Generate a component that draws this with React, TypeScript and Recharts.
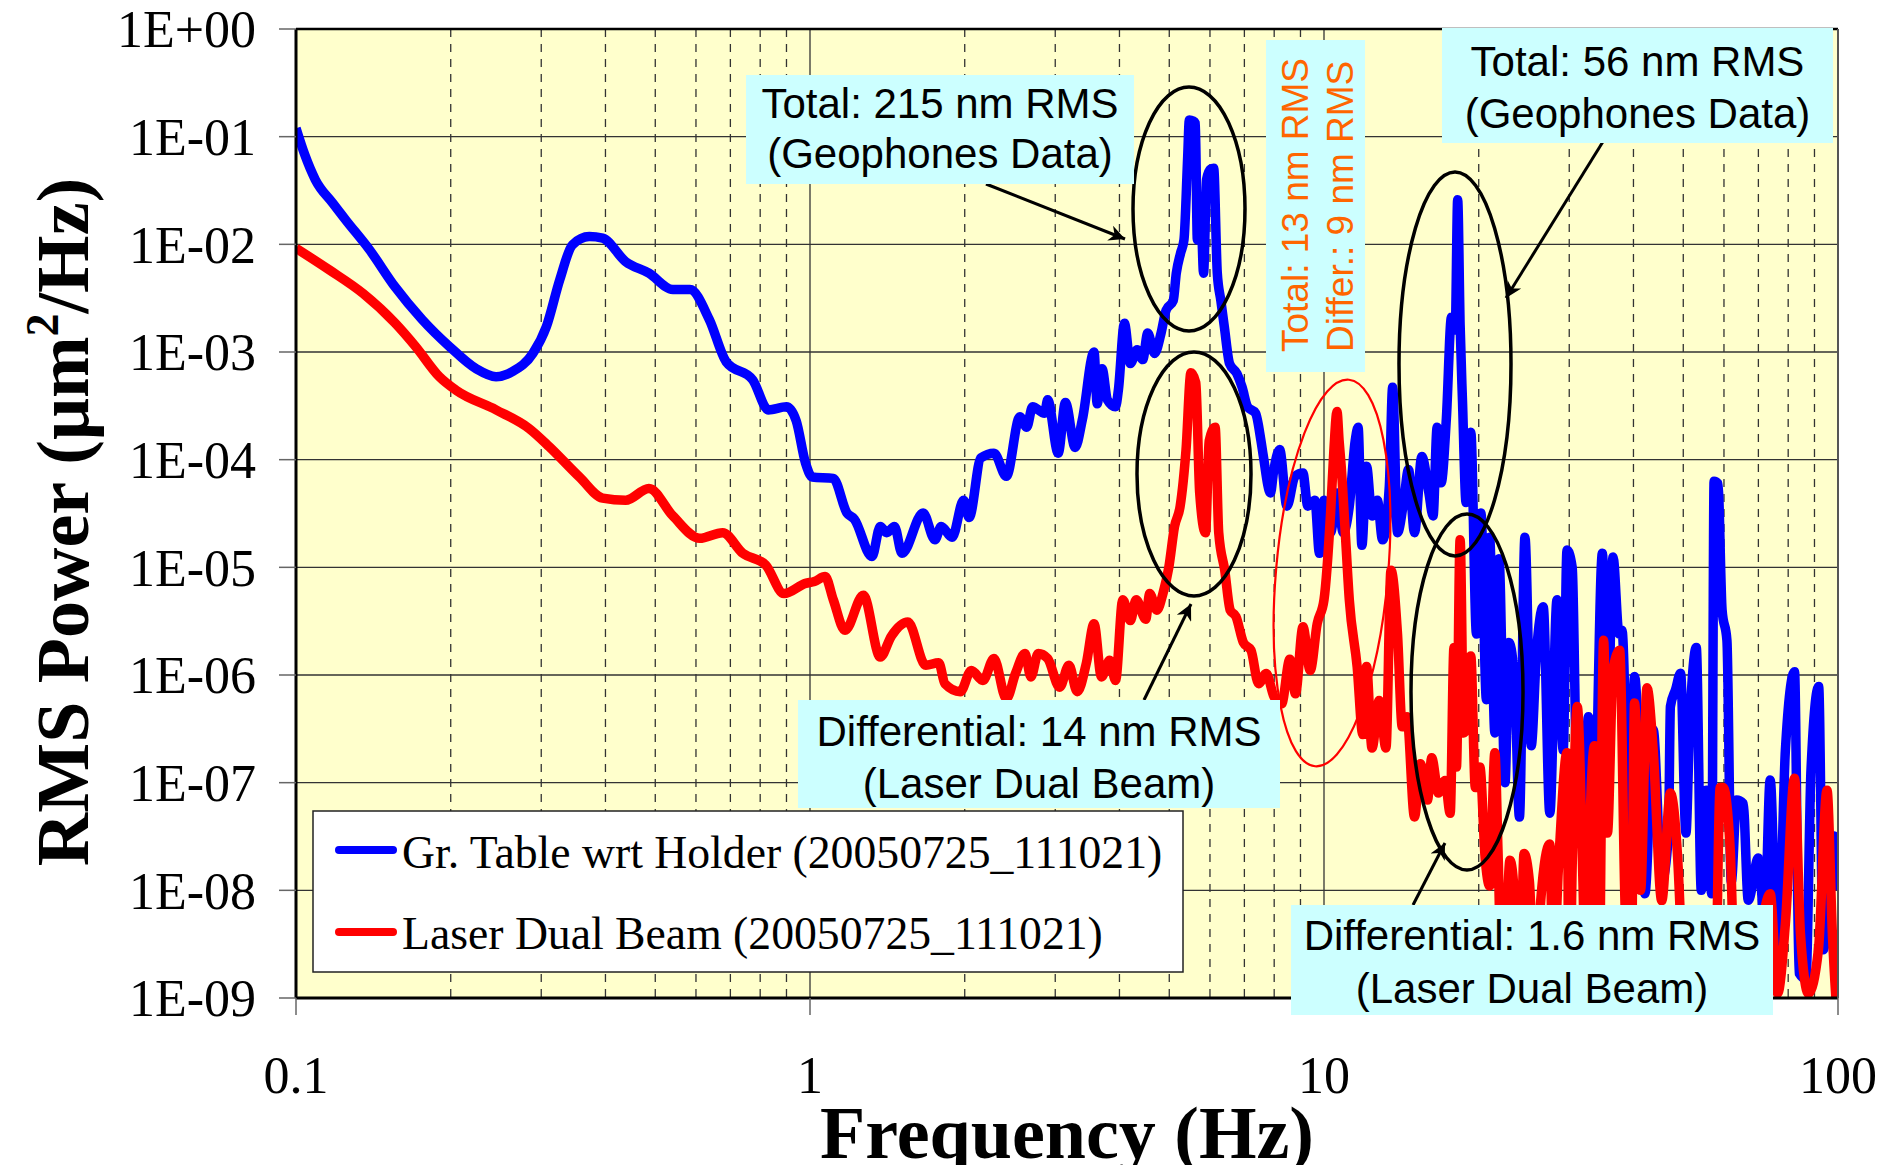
import React, { useEffect } from 'react';
import { LineChart, Line, XAxis, YAxis, CartesianGrid } from 'recharts';

// Gr. Table wrt Holder (geophones), frequency in Hz and RMS power in um^2/Hz
const blueFreq = [
  0.1, 0.104, 0.109, 0.118, 0.125, 0.139, 0.156, 0.176, 0.199, 0.224, 0.245, 0.264, 0.289, 0.307, 0.326,
  0.345, 0.372, 0.395, 0.438, 0.486, 0.541, 0.584, 0.637, 0.687, 0.774, 0.83, 0.9, 0.94, 0.98, 1.01,
  1.11, 1.18, 1.22, 1.32, 1.37, 1.41, 1.46, 1.51, 1.66, 1.75, 1.8, 1.89, 1.99, 2.04, 2.15, 2.28, 2.41,
  2.56, 2.64, 2.71, 2.86, 2.9, 3.04, 3.14, 3.28, 3.39, 3.57, 3.62, 3.7, 3.79, 3.93, 3.98, 4.09, 4.2,
  4.33, 4.44, 4.54, 4.68, 4.82, 4.93, 5.09, 5.16, 5.26, 5.34, 5.43, 5.47, 5.56, 5.62, 5.67, 5.77, 5.83,
  5.91, 6.02, 6.1, 6.2, 6.3, 6.4, 6.55, 6.77, 6.93, 7.1, 7.36, 7.54, 7.62, 7.87, 7.97, 8.2, 8.47, 8.78,
  9.1, 9.3, 9.6, 9.8, 10.0, 10.3, 10.6, 10.9, 11.2, 11.5, 11.65, 11.85, 12.1, 12.4, 12.7, 13.0, 13.4,
  13.6, 13.9, 14.3, 14.6, 15.0, 15.5, 16.0, 16.3, 16.6, 16.9, 17.3, 17.7, 18.0, 18.2, 18.4, 18.6, 18.9,
  19.3, 19.8, 20.2, 20.7, 21.0, 21.5, 21.9, 22.5, 22.9, 23.5, 24.0, 24.6, 25.3, 25.9, 26.7, 27.5, 28.4,
  29.2, 29.7, 30.4, 31.1, 31.9, 32.7, 33.5, 34.8, 35.6, 36.5, 37.5, 38.0, 39.3, 40.2, 42.1, 43.7, 45.4,
  46.8, 47.2, 48.3, 49.4, 50.6, 51.4, 53.0, 54.2, 55.5, 56.8, 57.4, 58.4, 59.5, 60.8, 62.0, 63.5, 65.4,
  66.9, 70.0, 72.0, 73.8, 76.3, 79.0, 82.3, 84.0, 86.6, 88.6, 91.7, 93.6, 98.3, 100,
];
const bluePsd = [
  0.12, 0.068, 0.04, 0.024, 0.0168, 0.0089, 0.004, 0.002, 0.00112, 0.0007, 0.00059, 0.00066, 0.00097, 0.00172, 0.0047,
  0.0099, 0.0118, 0.0114, 0.0069, 0.0054, 0.0038, 0.0038, 0.002, 0.00081, 0.00055, 0.00029, 0.00031, 0.00023, 9.3e-5, 6.9e-5,
  6.7e-5, 3.2e-5, 2.8e-5, 1.26e-5, 2.4e-5, 2.1e-5, 2.4e-5, 1.35e-5, 3.2e-5, 1.8e-5, 2.4e-5, 1.9e-5, 4.2e-5, 2.9e-5, 1.04e-4, 1.15e-4, 7.0e-5,
  2.5e-4, 2.0e-4, 3.1e-4, 2.7e-4, 3.6e-4, 1.15e-4, 3.4e-4, 1.3e-4, 2.4e-4, 1.0e-3, 3.3e-4, 7.0e-4, 3.6e-4, 3.1e-4, 4.4e-4, 1.85e-3, 7.8e-4,
  1.05e-3, 8.5e-4, 1.5e-3, 9.7e-4, 1.5e-3, 2.45e-3, 3.0e-3, 5.4e-3, 8.3e-3, 0.011, 0.065, 0.143, 0.14, 0.133, 0.011, 0.0157, 0.0054,
  0.04, 0.05, 0.051, 0.0054, 0.003, 0.0017, 7.8e-4, 6.3e-4, 4.7e-4, 3.1e-4, 2.7e-4, 1.5e-4, 1.08e-4, 4.9e-5, 7.5e-5, 1.24e-4, 3.7e-5, 7.0e-5,
  7.5e-5, 3.7e-5, 4.2e-5, 1.35e-5, 4.2e-5, 2.1e-5, 4.9e-5, 2.1e-5, 3.7e-5, 1.5e-4, 2.0e-4, 1.6e-5, 8.7e-5, 3.0e-5, 4.2e-5, 1.8e-5, 5.7e-5,
  4.7e-4, 2.1e-5, 4.2e-5, 8.1e-5, 2.1e-5, 1.07e-4, 4.9e-5, 3.0e-5, 2.0e-4, 6.1e-5, 2.4e-4, 2.1e-3, 1.6e-3, 0.026, 1.8e-3, 3.4e-4, 4.0e-5,
  1.8e-4, 2.4e-6, 3.2e-5, 5.9e-7, 1.9e-5, 2.9e-7, 1.2e-5, 1.0e-7, 2.0e-6, 8.3e-7, 4.8e-8, 1.9e-5, 2.2e-7, 1.6e-6, 4.3e-6, 5.2e-8, 5.0e-6,
  2.0e-7, 1.45e-5, 1.0e-5, 6.9e-8, 3.9e-8, 4.1e-7, 2.9e-8, 1.35e-5, 2.9e-7, 1.25e-5, 2.4e-6, 2.6e-6, 2.4e-8, 9.7e-7, 9.3e-9, 3.1e-7, 1.2e-8,
  3.4e-8, 5.1e-7, 7.3e-7, 1.04e-6, 3.4e-8, 2.9e-7, 1.8e-6, 1.0e-8, 8.5e-8, 9.3e-9, 6.3e-5, 6.0e-5, 4.0e-6, 2.1e-6, 1.2e-8, 6.9e-8, 6.4e-8,
  8.1e-9, 2.0e-8, 5.0e-9, 1.06e-7, 1.4e-9, 2.0e-7, 1.07e-6, 1.7e-9, 1.5e-9, 1.3e-7, 7.8e-7, 2.8e-9, 3.2e-8, 1.0e-8,
];

// Laser Dual Beam (differential)
const redFreq = [
  0.1, 0.116, 0.135, 0.156, 0.171, 0.19, 0.205, 0.245, 0.284, 0.311, 0.356, 0.395, 0.438, 0.486, 0.541,
  0.61, 0.676, 0.74, 0.82, 0.89, 0.98, 1.02, 1.07, 1.11, 1.17, 1.27, 1.37, 1.44, 1.55, 1.68, 1.78, 1.83,
  1.96, 2.06, 2.17, 2.28, 2.41, 2.51, 2.62, 2.69, 2.78, 2.9, 3.06, 3.19, 3.31, 3.45, 3.57, 3.69, 3.83,
  3.93, 4.06, 4.2, 4.31, 4.5, 4.58, 4.73, 4.86, 4.99, 5.12, 5.25, 5.39, 5.51, 5.63, 5.73, 5.88, 5.98,
  6.14, 6.24, 6.41, 6.57, 6.74, 6.97, 7.21, 7.46, 7.72, 7.99, 8.27, 8.58, 8.8, 9.1, 9.4, 9.7, 10.0, 10.3,
  10.45, 10.6, 10.7, 10.8, 11.0, 11.2, 11.6, 11.9, 12.1, 12.4, 12.8, 13.2, 13.5, 13.9, 14.2, 14.5, 15.0,
  15.4, 15.9, 16.2, 16.7, 17.2, 17.6, 17.9, 18.1, 18.4, 18.7, 19.0, 19.3, 19.7, 20.1, 20.6, 21.0, 21.5,
  21.8, 22.3, 22.7, 23.0, 23.5, 24.0, 24.5, 25.1, 25.8, 26.4, 27.5, 28.0, 28.4, 28.8, 29.7, 30.0, 30.4,
  31.1, 31.9, 32.4, 32.9, 33.6, 34.2, 35.0, 35.6, 36.5, 37.6, 38.5, 39.5, 40.2, 41.3, 42.5, 43.7, 45.4,
  47.2, 48.7, 49.9, 51.5, 53.0, 55.5, 57.5, 59.0, 59.8, 61.7, 63.0, 66.0, 70.0, 73.8, 76.3, 79.0, 82.3,
  84.5, 87.6, 91.6, 95.2, 97.5, 100,
];
const redPsd = [
  9.2e-3, 5.8e-3, 3.5e-3, 1.85e-3, 1.12e-3, 5.9e-4, 4.4e-4, 2.9e-4, 1.95e-4, 1.32e-4, 6.9e-5, 4.4e-5, 4.2e-5, 5.4e-5, 3.0e-5,
  1.86e-5, 2.1e-5, 1.35e-5, 1.05e-5, 5.7e-6, 7.1e-6, 7.4e-6, 8.2e-6, 5.0e-6, 2.6e-6, 5.5e-6, 1.47e-6, 2.3e-6, 3.1e-6, 1.23e-6, 1.3e-6, 8.3e-7,
  7.0e-7, 1.1e-6, 8.9e-7, 1.42e-6, 6.0e-7, 1.03e-6, 1.58e-6, 9.6e-7, 1.58e-6, 1.42e-6, 7.7e-7, 1.23e-6, 7.0e-7, 1.3e-6, 3.0e-6, 9.6e-7, 1.37e-6,
  8.9e-7, 5.0e-6, 3.2e-6, 5.0e-6, 3.3e-6, 5.7e-6, 4.0e-6, 5.7e-6, 1.0e-5, 2.4e-5, 3.7e-5, 1.24e-4, 6.4e-4, 5.2e-4, 4.9e-5, 2.1e-5, 1.5e-4,
  2.0e-4, 2.1e-5, 9.4e-6, 4.0e-6, 3.5e-6, 2.0e-6, 1.7e-6, 8.3e-7, 1.03e-6, 6.3e-7, 5.4e-7, 1.4e-6, 6.7e-7, 2.8e-6, 1.1e-6, 3.0e-6, 5.0e-6, 3.2e-5,
  1.2e-4, 2.8e-4, 1.5e-4, 8.7e-5, 2.1e-5, 5.0e-6, 1.2e-6, 2.8e-7, 1.2e-6, 2.1e-7, 5.8e-7, 2.1e-7, 9.4e-6, 2.4e-6, 3.3e-7, 4.1e-7, 4.8e-8,
  1.5e-7, 6.9e-8, 1.7e-7, 8.0e-8, 1.05e-7, 5.2e-8, 1.8e-6, 1.4e-7, 1.8e-5, 2.9e-7, 3.3e-7, 1.5e-6, 9.0e-8, 1.4e-7, 1.9e-8, 1.1e-8, 1.9e-7,
  2.4e-8, 5e-10, 5.7e-9, 1.9e-8, 8e-9, 5e-10, 2.2e-8, 1.2e-8, 5e-10, 8e-9, 2.7e-8, 5e-10, 8e-9, 3.1e-8, 1.9e-7, 5e-10, 1.7e-8,
  5.1e-7, 1.2e-8, 5e-10, 3.6e-8, 2.2e-7, 5e-10, 2.1e-6, 3.4e-8, 1.1e-6, 1.7e-6, 8e-9, 5e-10, 5.5e-7, 1.0e-8, 7.6e-7, 2.0e-7, 8e-9,
  8e-8, 2.2e-8, 1.9e-9, 5e-10, 4e-9, 2.8e-9, 5e-10, 9e-8, 9e-8, 2.4e-8, 1.4e-9, 5e-10, 3e-9, 9.3e-9, 1.1e-9, 4.9e-9, 1.1e-7,
  4e-9, 1.1e-9, 2.8e-9, 8.5e-8, 4e-9, 5e-10,
];

const xTicks = [0.1, 1, 10, 100];
const xTickLabels = ['0.1', '1', '10', '100'];
const minorFreqs = [0.2, 0.3, 0.4, 0.5, 0.6, 0.7, 0.8, 0.9, 2, 3, 4, 5, 6, 7, 8, 9, 20, 30, 40, 50, 60, 70, 80, 90];
const yTicks = [1e-9, 1e-8, 1e-7, 1e-6, 1e-5, 1e-4, 1e-3, 1e-2, 1e-1, 1];
const yTickLabels = ['1E-09', '1E-08', '1E-07', '1E-06', '1E-05', '1E-04', '1E-03', '1E-02', '1E-01', '1E+00'];

const blueData = blueFreq.map((f, i) => ({ f, v: bluePsd[i] }));
const redData = redFreq.map((f, i) => ({ f, v: redPsd[i] }));

const SERIF = '"Liberation Serif", "Times New Roman", serif';
const SANS = '"Liberation Sans", Arial, sans-serif';
const W = 1880;
const H = 1157;
const PLOT = { left: 288, top: 21, width: 1542, height: 969 };
const minorPoints = minorFreqs.map((f) => PLOT.left + (PLOT.width * (Math.log10(f) + 1)) / 3);

const Box = ({ x, y, w, h, lines }: { x: number; y: number; w: number; h: number; lines: [string, number][] }) => (
  <g>
    <rect x={x} y={y} width={w} height={h} fill="#CCFFFF" />
    {lines.map(([t, by]) => (
      <text key={t} x={x + w / 2} y={by} textAnchor="middle" fontFamily={SANS} fontSize={42} fill="#000">
        {t}
      </text>
    ))}
  </g>
);

export default function App() {
  useEffect(() => {
    document.body.style.overflow = 'hidden';
  }, []);

  return (
    <div style={{ position: 'relative', width: W, height: H }}>
      <style>{'.recharts-surface { overflow: visible; }'}</style>
      <LineChart width={W} height={H} margin={{ top: PLOT.top, right: W - PLOT.left - PLOT.width, left: 0, bottom: 0 }}>
        <CartesianGrid fill="#FFFFCC" fillOpacity={1} stroke="#333" strokeWidth={1.3} />
        <CartesianGrid horizontal={false} verticalPoints={minorPoints} stroke="#333" strokeWidth={1.3} strokeDasharray="8 7" />
        <XAxis
          dataKey="f"
          type="number"
          scale="log"
          domain={[0.1, 100]}
          ticks={xTicks}
          interval={0}
          allowDataOverflow
          height={H - PLOT.top - PLOT.height}
          tickSize={17}
          tickMargin={41}
          tickFormatter={(v: number) => xTickLabels[xTicks.indexOf(v)] ?? String(v)}
          tick={{ fontSize: 52, fontFamily: SERIF, fill: '#000' }}
          axisLine={{ stroke: '#000', strokeWidth: 3 }}
          tickLine={{ stroke: '#666', strokeWidth: 1.5 }}
        />
        <YAxis
          type="number"
          scale="log"
          domain={[1e-9, 1]}
          ticks={yTicks}
          interval={0}
          allowDataOverflow
          width={PLOT.left}
          tickSize={17}
          tickMargin={23}
          tickFormatter={(v: number) => yTickLabels[Math.round(Math.log10(v)) + 9]}
          tick={{ fontSize: 52, fontFamily: SERIF, fill: '#000' }}
          axisLine={{ stroke: '#000', strokeWidth: 3 }}
          tickLine={{ stroke: '#666', strokeWidth: 1.5 }}
        />
        <Line data={blueData} dataKey="v" type="monotone" stroke="#0000FF" strokeWidth={9.5} strokeLinejoin="round" dot={false} isAnimationActive={false} />
        <Line data={redData} dataKey="v" type="monotone" stroke="#FF0000" strokeWidth={9.5} strokeLinejoin="round" dot={false} isAnimationActive={false} />
      </LineChart>

      <svg width={1897} height={1173} style={{ position: 'absolute', left: -8, top: -8, pointerEvents: 'none' }}>
        <defs>
          <marker id="head" viewBox="0 0 10 10" refX="10" refY="5" markerWidth="24" markerHeight="16" markerUnits="userSpaceOnUse" orient="auto">
            <path d="M0,0 L10,5 L0,10 L3,5 z" fill="#000" />
          </marker>
        </defs>
        {/* plot frame top / right */}
        <line x1={296} y1={29} x2={1838} y2={29} stroke="#000" strokeWidth={2.5} />
        <line x1={1838} y1={29} x2={1838} y2={998} stroke="#555" strokeWidth={2} />

        {/* ellipses */}
        <g fill="none" stroke="#000" strokeWidth={3.5}>
          <ellipse cx={1189} cy={209} rx={56} ry={122} />
          <ellipse cx={1194} cy={474} rx={57} ry={122} />
          <ellipse cx={1455} cy={364} rx={56} ry={192} />
          <ellipse cx={1467} cy={692} rx={56} ry={178} />
        </g>
        <ellipse cx={1332} cy={573} rx={56} ry={194} fill="none" stroke="#FF0000" strokeWidth={2.2} transform="rotate(5 1332 573)" />

        {/* arrows */}
        <g stroke="#000" strokeWidth={3}>
          <line x1={986} y1={184} x2={1125} y2={239} markerEnd="url(#head)" />
          <line x1={1604} y1={140} x2={1506} y2={298} markerEnd="url(#head)" />
          <line x1={1144} y1={700} x2={1191} y2={604} markerEnd="url(#head)" />
          <line x1={1413} y1={905} x2={1445} y2={843} markerEnd="url(#head)" />
        </g>

        {/* annotation boxes */}
        <Box x={746} y={75} w={388} h={109} lines={[['Total: 215 nm RMS', 118], ['(Geophones Data)', 168]]} />
        <Box x={1442} y={28} w={391} h={115} lines={[['Total: 56 nm RMS', 76], ['(Geophones Data)', 128]]} />
        <Box x={798} y={700} w={482} h={108} lines={[['Differential: 14 nm RMS', 746], ['(Laser Dual Beam)', 798]]} />
        <Box x={1291} y={905} w={482} h={110} lines={[['Differential: 1.6 nm RMS', 950], ['(Laser Dual Beam)', 1003]]} />
        <rect x={1266} y={40} width={99} height={332} fill="#CCFFFF" />
        <text transform="translate(1308 352) rotate(-90)" fontFamily={SANS} fontSize={37} fill="#FF6600">
          Total: 13 nm RMS
        </text>
        <text transform="translate(1353 352) rotate(-90)" fontFamily={SANS} fontSize={37} fill="#FF6600">
          Differ.: 9 nm RMS
        </text>

        {/* legend */}
        <rect x={313} y={811} width={870} height={161} fill="#fff" stroke="#222" strokeWidth={1.5} />
        <line x1={339} y1={850} x2={393} y2={850} stroke="#0000FF" strokeWidth={8} strokeLinecap="round" />
        <line x1={339} y1={932} x2={393} y2={932} stroke="#FF0000" strokeWidth={8} strokeLinecap="round" />
        <text x={402} y={868} fontFamily={SERIF} fontSize={45.7} fill="#000">
          Gr. Table wrt Holder (20050725_111021)
        </text>
        <text x={402} y={949} fontFamily={SERIF} fontSize={45.7} fill="#000">
          Laser Dual Beam (20050725_111021)
        </text>

        {/* axis titles */}
        <text transform="translate(88 522) rotate(-90)" textAnchor="middle" fontFamily={SERIF} fontWeight="bold" fontSize={74} fill="#000">
          RMS Power (μm
          <tspan fontSize={46} dy={-30}>2</tspan>
          <tspan dy={30}>/Hz)</tspan>
        </text>
        <text x={1067} y={1158} textAnchor="middle" fontFamily={SERIF} fontWeight="bold" fontSize={74} fill="#000">
          Frequency (Hz)
        </text>
      </svg>
    </div>
  );
}
